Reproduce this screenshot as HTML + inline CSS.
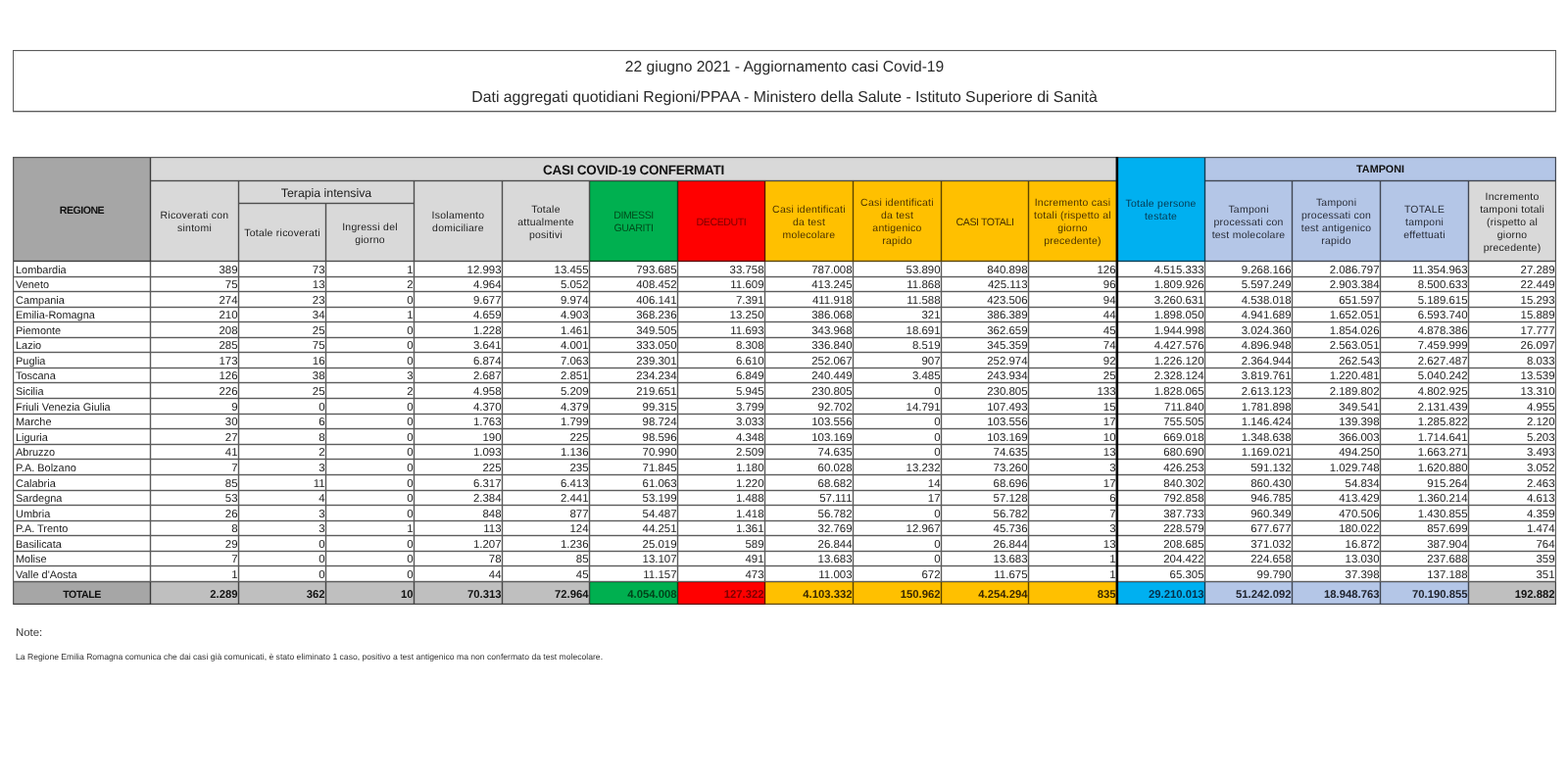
<!DOCTYPE html>
<html lang="it">
<head>
<meta charset="utf-8">
<title>22 giugno 2021 - Aggiornamento casi Covid-19</title>
<style>
*{box-sizing:border-box;margin:0;padding:0}
html,body{width:1600px;height:800px;background:#fff;overflow:hidden}
body{font-family:"Liberation Sans",sans-serif;color:#1c1c1c;position:relative;text-rendering:geometricPrecision}
#title{position:absolute;left:13px;top:51px;width:1575px;height:63px;border:1px solid rgba(0,0,0,0.64);box-shadow:0 1px 0 rgba(0,0,0,.22),inset 0 1px 0 rgba(0,0,0,.08);text-align:center;font-size:15.62px;color:#2a2a2a}
#title p{position:absolute;left:0;right:0;white-space:nowrap;line-height:18px}
#title .l1{top:8px}
#title .l2{top:38.6px;font-size:15.84px}
table{position:absolute;left:13px;top:160px;border-collapse:separate;border-spacing:0;table-layout:fixed;width:1575px;border-left:1px solid rgba(0,0,0,0.64);border-top:1px solid rgba(0,0,0,0.64)}
td,th{border-right:1px solid rgba(0,0,0,0.64);border-bottom:1px solid rgba(0,0,0,0.64);overflow:hidden;white-space:nowrap;font-weight:normal;box-shadow:inset 1px 0 0 rgba(0,0,0,.13),inset 0 1px 0 rgba(0,0,0,.13),inset -1px 0 0 rgba(0,0,0,.13),inset 0 -1px 0 rgba(0,0,0,.13)}
th{font-size:10.45px;letter-spacing:0.27px;line-height:13px;padding-top:3.5px;text-align:center;vertical-align:middle;background:#d9d9d9}
th.reg{background:#a6a6a6;font-weight:bold;font-size:10.6px;letter-spacing:-0.5px;color:#111}
th.grp{font-weight:bold;color:#111;letter-spacing:0;padding-top:1px}
th.g1{font-size:13.5px;letter-spacing:-0.25px}
th.g2{font-size:10.8px;background:#b4c6e7}
th.ti{font-size:12.3px;letter-spacing:0;padding-top:2.5px}
th.gre{background:#00b050;color:#004d1c}
th.red{background:#ff0000;color:#780000}
th.ora{background:#ffc000;color:#4a3200}
th.blu{background:#00b0f0;color:#06384f}
th.lbl{background:#b4c6e7;color:#272b36}
th.up{font-size:10.6px;letter-spacing:-0.42px}
td{font-size:11.45px;line-height:12px;text-align:right;vertical-align:bottom;padding:0 0.5px 0 0;background:#fff}
td.n{text-align:left;padding:0 0 0 2px;font-size:10.95px}
tr.tot td{font-weight:bold;background:#bfbfbf;vertical-align:middle;padding-top:4.5px;padding-bottom:0;font-size:11.3px;color:#111}
tr.tot td.n{text-align:center;background:#a6a6a6;font-size:10.6px;letter-spacing:-0.45px;padding-left:0;padding-top:4px}
tr.tot td.gre{background:#00b050;color:#00441a}
tr.tot td.red{background:#ff0000;color:#7a0000}
tr.tot td.ora{background:#ffc000;color:#3a2800}
tr.tot td.blu{background:#00b0f0;color:#05304a}
tr.tot td.lbl{background:#b4c6e7;color:#20242e}
#thick{position:absolute;left:1139px;top:160px;width:2px;height:457px;background:#000;box-shadow:-1px 0 0 rgba(0,0,0,.35),1px 0 0 rgba(0,0,0,.12)}
#note1{position:absolute;left:16px;top:639px;font-size:11.4px;line-height:14px;white-space:nowrap;color:#333}
#note2{position:absolute;left:16px;top:664px;font-size:8.6px;line-height:12px;white-space:nowrap;color:#333}
</style>
</head>
<body>
<div id="title">
<p class="l1">22 giugno 2021 - Aggiornamento casi Covid-19</p>
<p class="l2">Dati aggregati quotidiani Regioni/PPAA - Ministero della Salute - Istituto Superiore di Sanità</p>
</div>
<table>
<colgroup><col style="width:140px"><col style="width:90px"><col style="width:89px"><col style="width:90px"><col style="width:90px"><col style="width:89px"><col style="width:90px"><col style="width:89px"><col style="width:90px"><col style="width:90px"><col style="width:89px"><col style="width:90px"><col style="width:90px"><col style="width:89px"><col style="width:90px"><col style="width:90px"><col style="width:89px"></colgroup>
<thead>
<tr style="height:24px"><th class="reg" rowspan="3">REGIONE</th><th class="grp g1" colspan="11">CASI COVID-19 CONFERMATI</th><th class="blu" rowspan="3">Totale persone<br>testate</th><th class="grp g2" colspan="4">TAMPONI</th></tr>
<tr style="height:23px"><th rowspan="2">Ricoverati con<br>sintomi</th><th class="ti" colspan="2">Terapia intensiva</th><th rowspan="2">Isolamento<br>domiciliare</th><th rowspan="2">Totale<br>attualmente<br>positivi</th><th class="gre up" rowspan="2">DIMESSI<br>GUARITI</th><th class="red up" rowspan="2">DECEDUTI</th><th class="ora" rowspan="2">Casi identificati<br>da test<br>molecolare</th><th class="ora" rowspan="2">Casi identificati<br>da test<br>antigenico<br>rapido</th><th class="ora up" rowspan="2">CASI TOTALI</th><th class="ora" rowspan="2">Incremento casi<br>totali (rispetto al<br>giorno<br>precedente)</th><th class="lbl" rowspan="2">Tamponi<br>processati con<br>test molecolare</th><th class="lbl" rowspan="2">Tamponi<br>processati con<br>test antigenico<br>rapido</th><th class="lbl" rowspan="2">TOTALE<br>tamponi<br>effettuati</th><th rowspan="2">Incremento<br>tamponi totali<br>(rispetto al<br>giorno<br>precedente)</th></tr>
<tr style="height:59px"><th>Totale ricoverati</th><th>Ingressi del<br>giorno</th></tr>
</thead>
<tbody>
<tr style="height:16px"><td class="n">Lombardia</td><td>389</td><td>73</td><td>1</td><td>12.993</td><td>13.455</td><td>793.685</td><td>33.758</td><td>787.008</td><td>53.890</td><td>840.898</td><td>126</td><td>4.515.333</td><td>9.268.166</td><td>2.086.797</td><td>11.354.963</td><td>27.289</td></tr>
<tr style="height:15px"><td class="n">Veneto</td><td>75</td><td>13</td><td>2</td><td>4.964</td><td>5.052</td><td>408.452</td><td>11.609</td><td>413.245</td><td>11.868</td><td>425.113</td><td>96</td><td>1.809.926</td><td>5.597.249</td><td>2.903.384</td><td>8.500.633</td><td>22.449</td></tr>
<tr style="height:16px"><td class="n">Campania</td><td>274</td><td>23</td><td>0</td><td>9.677</td><td>9.974</td><td>406.141</td><td>7.391</td><td>411.918</td><td>11.588</td><td>423.506</td><td>94</td><td>3.260.631</td><td>4.538.018</td><td>651.597</td><td>5.189.615</td><td>15.293</td></tr>
<tr style="height:15px"><td class="n">Emilia-Romagna</td><td>210</td><td>34</td><td>1</td><td>4.659</td><td>4.903</td><td>368.236</td><td>13.250</td><td>386.068</td><td>321</td><td>386.389</td><td>44</td><td>1.898.050</td><td>4.941.689</td><td>1.652.051</td><td>6.593.740</td><td>15.889</td></tr>
<tr style="height:16px"><td class="n">Piemonte</td><td>208</td><td>25</td><td>0</td><td>1.228</td><td>1.461</td><td>349.505</td><td>11.693</td><td>343.968</td><td>18.691</td><td>362.659</td><td>45</td><td>1.944.998</td><td>3.024.360</td><td>1.854.026</td><td>4.878.386</td><td>17.777</td></tr>
<tr style="height:15px"><td class="n">Lazio</td><td>285</td><td>75</td><td>0</td><td>3.641</td><td>4.001</td><td>333.050</td><td>8.308</td><td>336.840</td><td>8.519</td><td>345.359</td><td>74</td><td>4.427.576</td><td>4.896.948</td><td>2.563.051</td><td>7.459.999</td><td>26.097</td></tr>
<tr style="height:16px"><td class="n">Puglia</td><td>173</td><td>16</td><td>0</td><td>6.874</td><td>7.063</td><td>239.301</td><td>6.610</td><td>252.067</td><td>907</td><td>252.974</td><td>92</td><td>1.226.120</td><td>2.364.944</td><td>262.543</td><td>2.627.487</td><td>8.033</td></tr>
<tr style="height:15px"><td class="n">Toscana</td><td>126</td><td>38</td><td>3</td><td>2.687</td><td>2.851</td><td>234.234</td><td>6.849</td><td>240.449</td><td>3.485</td><td>243.934</td><td>25</td><td>2.328.124</td><td>3.819.761</td><td>1.220.481</td><td>5.040.242</td><td>13.539</td></tr>
<tr style="height:16px"><td class="n">Sicilia</td><td>226</td><td>25</td><td>2</td><td>4.958</td><td>5.209</td><td>219.651</td><td>5.945</td><td>230.805</td><td>0</td><td>230.805</td><td>133</td><td>1.828.065</td><td>2.613.123</td><td>2.189.802</td><td>4.802.925</td><td>13.310</td></tr>
<tr style="height:16px"><td class="n">Friuli Venezia Giulia</td><td>9</td><td>0</td><td>0</td><td>4.370</td><td>4.379</td><td>99.315</td><td>3.799</td><td>92.702</td><td>14.791</td><td>107.493</td><td>15</td><td>711.840</td><td>1.781.898</td><td>349.541</td><td>2.131.439</td><td>4.955</td></tr>
<tr style="height:15px"><td class="n">Marche</td><td>30</td><td>6</td><td>0</td><td>1.763</td><td>1.799</td><td>98.724</td><td>3.033</td><td>103.556</td><td>0</td><td>103.556</td><td>17</td><td>755.505</td><td>1.146.424</td><td>139.398</td><td>1.285.822</td><td>2.120</td></tr>
<tr style="height:16px"><td class="n">Liguria</td><td>27</td><td>8</td><td>0</td><td>190</td><td>225</td><td>98.596</td><td>4.348</td><td>103.169</td><td>0</td><td>103.169</td><td>10</td><td>669.018</td><td>1.348.638</td><td>366.003</td><td>1.714.641</td><td>5.203</td></tr>
<tr style="height:15px"><td class="n">Abruzzo</td><td>41</td><td>2</td><td>0</td><td>1.093</td><td>1.136</td><td>70.990</td><td>2.509</td><td>74.635</td><td>0</td><td>74.635</td><td>13</td><td>680.690</td><td>1.169.021</td><td>494.250</td><td>1.663.271</td><td>3.493</td></tr>
<tr style="height:16px"><td class="n">P.A. Bolzano</td><td>7</td><td>3</td><td>0</td><td>225</td><td>235</td><td>71.845</td><td>1.180</td><td>60.028</td><td>13.232</td><td>73.260</td><td>3</td><td>426.253</td><td>591.132</td><td>1.029.748</td><td>1.620.880</td><td>3.052</td></tr>
<tr style="height:16px"><td class="n">Calabria</td><td>85</td><td>11</td><td>0</td><td>6.317</td><td>6.413</td><td>61.063</td><td>1.220</td><td>68.682</td><td>14</td><td>68.696</td><td>17</td><td>840.302</td><td>860.430</td><td>54.834</td><td>915.264</td><td>2.463</td></tr>
<tr style="height:15px"><td class="n">Sardegna</td><td>53</td><td>4</td><td>0</td><td>2.384</td><td>2.441</td><td>53.199</td><td>1.488</td><td>57.111</td><td>17</td><td>57.128</td><td>6</td><td>792.858</td><td>946.785</td><td>413.429</td><td>1.360.214</td><td>4.613</td></tr>
<tr style="height:16px"><td class="n">Umbria</td><td>26</td><td>3</td><td>0</td><td>848</td><td>877</td><td>54.487</td><td>1.418</td><td>56.782</td><td>0</td><td>56.782</td><td>7</td><td>387.733</td><td>960.349</td><td>470.506</td><td>1.430.855</td><td>4.359</td></tr>
<tr style="height:15px"><td class="n">P.A. Trento</td><td>8</td><td>3</td><td>1</td><td>113</td><td>124</td><td>44.251</td><td>1.361</td><td>32.769</td><td>12.967</td><td>45.736</td><td>3</td><td>228.579</td><td>677.677</td><td>180.022</td><td>857.699</td><td>1.474</td></tr>
<tr style="height:16px"><td class="n">Basilicata</td><td>29</td><td>0</td><td>0</td><td>1.207</td><td>1.236</td><td>25.019</td><td>589</td><td>26.844</td><td>0</td><td>26.844</td><td>13</td><td>208.685</td><td>371.032</td><td>16.872</td><td>387.904</td><td>764</td></tr>
<tr style="height:15px"><td class="n">Molise</td><td>7</td><td>0</td><td>0</td><td>78</td><td>85</td><td>13.107</td><td>491</td><td>13.683</td><td>0</td><td>13.683</td><td>1</td><td>204.422</td><td>224.658</td><td>13.030</td><td>237.688</td><td>359</td></tr>
<tr style="height:16px"><td class="n">Valle d'Aosta</td><td>1</td><td>0</td><td>0</td><td>44</td><td>45</td><td>11.157</td><td>473</td><td>11.003</td><td>672</td><td>11.675</td><td>1</td><td>65.305</td><td>99.790</td><td>37.398</td><td>137.188</td><td>351</td></tr>
<tr class="tot" style="height:23px"><td class="n">TOTALE</td><td>2.289</td><td>362</td><td>10</td><td>70.313</td><td>72.964</td><td class="gre">4.054.008</td><td class="red">127.322</td><td class="ora">4.103.332</td><td class="ora">150.962</td><td class="ora">4.254.294</td><td class="ora">835</td><td class="blu">29.210.013</td><td class="lbl">51.242.092</td><td class="lbl">18.948.763</td><td class="lbl">70.190.855</td><td>192.882</td></tr>
</tbody>
</table>
<div id="thick"></div>
<p id="note1">Note:</p>
<p id="note2">La Regione Emilia Romagna comunica che dai casi già comunicati, è stato eliminato 1 caso, positivo a test antigenico ma non confermato da test molecolare.</p>
</body>
</html>
